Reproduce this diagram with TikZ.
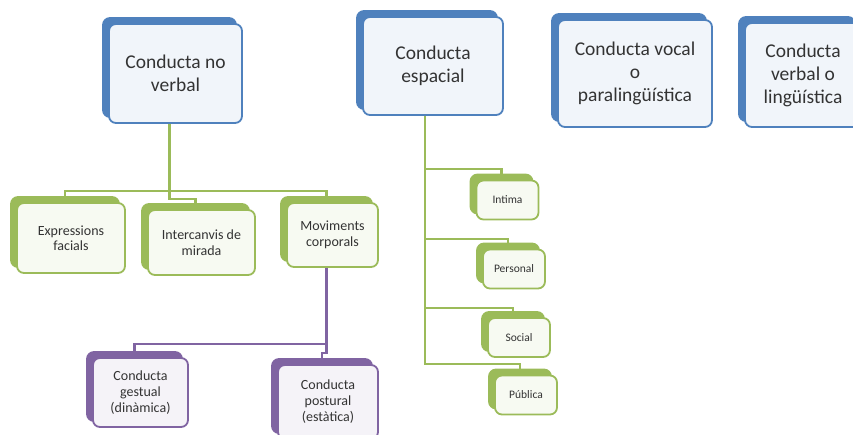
\documentclass[tikz,border=0pt]{standalone}
\usepackage{fontspec}
\setmainfont{Carlito}
\usetikzlibrary{shadows}
\definecolor{boxblue}{HTML}{4F81BD}
\definecolor{boxgreen}{HTML}{9BBB59}
\definecolor{boxpurple}{HTML}{8064A2}
\tikzset{my box/.style={
  rounded corners=7pt,
  line width=1.8pt,
  align=center,
  inner sep=2pt,
  text=black!80
  }
}
\tikzset{blue box/.style={
  my box,
  draw=boxblue,
  fill=boxblue!8,
  copy shadow={shadow xshift=-6pt,shadow yshift=6pt,fill=boxblue,draw=boxblue},
  font=\fontsize{19.5}{23}\selectfont
  }
}
\tikzset{green box/.style={
  my box,
  draw=boxgreen,
  fill=boxgreen!8,
  copy shadow={shadow xshift=-6pt,shadow yshift=6pt,fill=boxgreen,draw=boxgreen},
  font=\fontsize{14}{15.5}\selectfont
  }
}
\tikzset{purple box/.style={
  my box,
  draw=boxpurple,
  fill=boxpurple!8,
  copy shadow={shadow xshift=-6pt,shadow yshift=6pt,fill=boxpurple,draw=boxpurple},
  font=\fontsize{14}{16}\selectfont
  }
}
\tikzset{green line/.style={
  boxgreen,
  line width=2.4pt
  }
}
\tikzset{purple line/.style={
  boxpurple,
  line width=2.4pt
  }
}
\begin{document}
\begin{tikzpicture}[x=1pt,y=-1pt]
    \useasboundingbox (0,0) rectangle (853,435);

    % top level
    \node[blue box,minimum width=133pt,minimum height=99pt] (NV) at (175.5,73.5) {Conducta no\\verbal};
    \node[blue box,minimum width=140pt,minimum height=98pt] (ESP) at (433,66) {Conducta\\espacial};
    \node[blue box,minimum width=154pt,minimum height=107pt] (VOC) at (635,73.5) {Conducta vocal\\o\\paralingüística};
    \node[blue box,minimum width=116pt,minimum height=104pt] (VER) at (803,75) {Conducta\\verbal o\\lingüística};

    % conducta no verbal
    \node[green box,minimum width=108pt,minimum height=70pt] (EF) at (71,238) {Expressions\\facials};
    \node[green box,minimum width=107pt,minimum height=65pt] (IM) at (201.5,242.5) {Intercanvis de\\mirada};
    \node[green box,minimum width=91pt,minimum height=64pt] (MC) at (332.5,235) {Moviments\\corporals};

    \draw[green line] ([xshift=-6pt]NV.south) -- ++(0,67) -| ([shift={(-6pt,6pt)}]EF.north);
    \draw[green line] ([xshift=-6pt]NV.south) -- ++(0,75) -| ([shift={(-6pt,6pt)}]IM.north);
    \draw[green line] ([xshift=-6pt]NV.south) -- ++(0,67) -| ([shift={(-6pt,6pt)}]MC.north);

    % moviments corporals
    \node[purple box,minimum width=95pt,minimum height=69pt] (CG) at (140.5,392.5) {Conducta\\gestual\\(dinàmica)};
    \node[purple box,minimum width=100pt,minimum height=74pt] (CP) at (328,402) {Conducta\\postural\\(estàtica)};

    \draw[purple line] ([xshift=-6pt]MC.south) -- ++(0,76) -| ([shift={(-6pt,6pt)}]CG.north);
    \draw[purple line] ([xshift=-6pt]MC.south) -- ++(0,85) -| ([shift={(-6pt,6pt)}]CP.north);

    % conducta espacial
    \foreach \name/\txt/\px/\py/\drop [count=\n] in {INT/Intima/507.5/200/53,PER/Personal/514/269/123,SOC/Social/519/337.5/192,PUB/Pública/526/395/248}
    {
        \node[green box,font=\fontsize{11.5}{13}\selectfont,minimum width=62pt,minimum height=39pt] (\name) at (\px,\py) {\txt};
        \draw[green line] ([xshift=-8pt]ESP.south) -- ++(0,\drop) -| ([shift={(-6pt,6pt)}]\name.north);
    }
\end{tikzpicture}
\end{document}
